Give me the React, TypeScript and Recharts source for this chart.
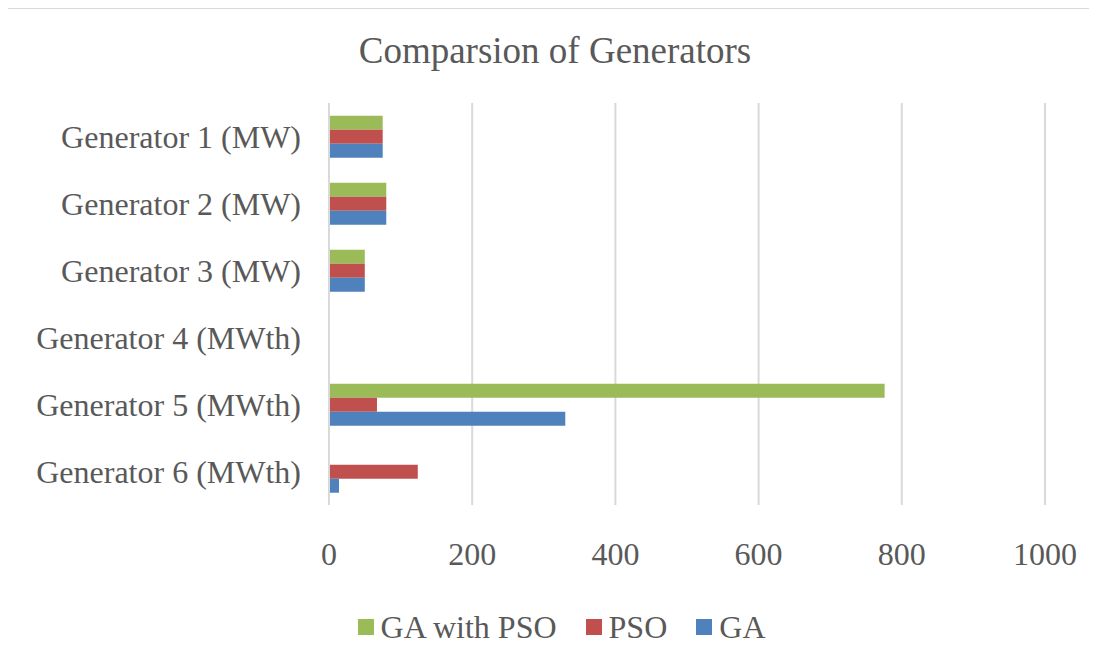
import React from "react";
import {
  Bar,
  BarChart,
  CartesianGrid,
  Legend,
  XAxis,
  YAxis,
} from "recharts";

const generators = [
  "Generator 1 (MW)",
  "Generator 2 (MW)",
  "Generator 3 (MW)",
  "Generator 4 (MWth)",
  "Generator 5 (MWth)",
  "Generator 6 (MWth)",
];

const gaWithPso = [75, 80, 50, 0, 776, 0];
const pso = [75, 80, 50, 0, 67, 124];
const ga = [75, 80, 50, 0, 330, 14];

const xTicks = [0, 200, 400, 600, 800, 1000];

const seriesMeta = [
  { key: "gaWithPso", name: "GA with PSO", color: "#9BBB59" },
  { key: "pso", name: "PSO", color: "#C0504D" },
  { key: "ga", name: "GA", color: "#4F81BD" },
];

const rows = generators.map((name, i) => ({
  name,
  gaWithPso: gaWithPso[i],
  pso: pso[i],
  ga: ga[i],
}));

const FONT = '"Liberation Serif", "Times New Roman", serif';
const TEXT = "#595959";
const GRID = "#d9d9d9";

function LegendContent() {
  return (
    <div
      style={{
        display: "flex",
        justifyContent: "center",
        alignItems: "center",
        height: 40,
        paddingLeft: 18,
        boxSizing: "border-box",
        fontFamily: FONT,
        fontSize: 32,
        color: TEXT,
      }}
    >
      {seriesMeta.map((s, i) => (
        <div
          key={s.key}
          style={{
            display: "flex",
            alignItems: "center",
            marginRight: i < seriesMeta.length - 1 ? 29 : 0,
          }}
        >
          <span
            style={{
              display: "inline-block",
              width: 16,
              height: 16,
              background: s.color,
              marginRight: 7,
            }}
          />
          <span>{s.name}</span>
        </div>
      ))}
    </div>
  );
}

export default function App() {
  return (
    <div style={{ position: "relative", width: 1089, height: 656 }}>
      <div
        style={{
          position: "absolute",
          left: -2,
          top: -1,
          width: 1091,
          height: 657,
          borderLeft: `2px solid ${GRID}`,
          borderTop: `2px solid ${GRID}`,
          boxSizing: "border-box",
        }}
      />
      <div
        style={{
          position: "absolute",
          left: 0,
          top: 21,
          width: 1094,
          textAlign: "center",
          fontFamily: FONT,
          fontSize: 37,
          color: TEXT,
        }}
      >
        Comparsion of Generators
      </div>
      <BarChart
        width={1089}
        height={656}
        data={rows}
        layout="vertical"
        margin={{ top: 95, right: 52, bottom: 39, left: 0 }}
        barCategoryGap="19%"
        barGap={0}
      >
        <CartesianGrid horizontal={false} stroke={GRID} strokeWidth={2} />
        <XAxis
          type="number"
          domain={[0, 1000]}
          ticks={xTicks}
          axisLine={false}
          tickLine={false}
          tickSize={0}
          tickMargin={37}
          height={80}
          interval={0}
          tick={{ fontSize: 32, fill: TEXT, fontFamily: FONT }}
        />
        <YAxis
          type="category"
          dataKey="name"
          width={321}
          axisLine={{ stroke: GRID, strokeWidth: 2 }}
          tickLine={false}
          tickSize={0}
          tickMargin={28}
          interval={0}
          tick={{ fontSize: 32, fill: TEXT, fontFamily: FONT }}
        />
        <Legend
          verticalAlign="bottom"
          content={<LegendContent />}
          wrapperStyle={{ bottom: 17, left: 0, width: 1089 }}
        />
        {seriesMeta.map((s) => (
          <Bar
            key={s.key}
            dataKey={s.key}
            name={s.name}
            fill={s.color}
            isAnimationActive={false}
          />
        ))}
      </BarChart>
    </div>
  );
}
